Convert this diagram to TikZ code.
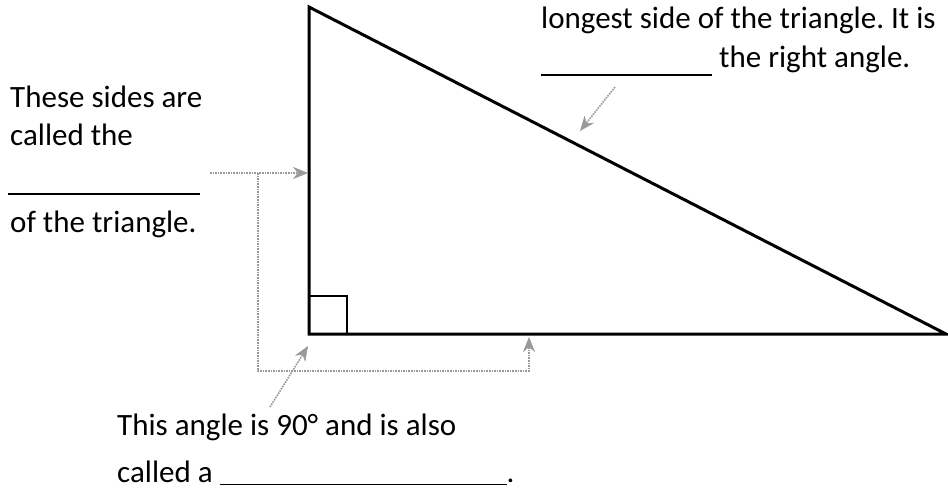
\documentclass[tikz,border=0pt]{standalone}
\usepackage{fontspec}
\setmainfont{Carlito}
\usetikzlibrary{arrows.meta}
\frenchspacing

\begin{document}
\begin{tikzpicture}[x=1pt,y=-1pt,
  txt/.style={anchor=base west,inner sep=0pt,font=\fontsize{31}{37}\selectfont},
  pointer/.style={gray!80,line width=1.6pt,densely dotted,-{Stealth[length=15pt,width=12pt,line width=0.6pt,sep=0pt]}}]
  \useasboundingbox (0,0) rectangle (948,490);
  \coordinate (A) at (309,7); \coordinate (B) at (309,334);
  \coordinate (C) at (946,334);
  \draw[line width=3pt,line join=miter] (A)--(B)--(C)--cycle;
  \draw[line width=2.5pt] (309,296)--(347,296)--(347,334);
  % labels
  \node[txt] (sides1) at (10,107) {These sides are};
  \node[txt] (sides2) at (10,145) {called the};
  \node[txt] (sides3) at (8,195) {\rule{192pt}{2pt}};
  \node[txt] (sides4) at (10,232) {of the triangle.};
  \node[txt] (hyp1) at (541,28) {longest side of the triangle. It is};
  \node[txt] (hyp2) at (541,67) {\rule[-9pt]{171pt}{2pt} the right angle.};
  \node[txt] (ang1) at (117,435) {This angle is 90° and is also};
  \node[txt] (ang2) at (117,482) {called a \rule[-3pt]{287pt}{1.4pt}.};
  % pointers
  \coordinate (Lt0) at (210,173); \coordinate (Lt) at (308,173);
  \coordinate (Bt) at (529,337);
  \coordinate (Ht0) at (615,87); \coordinate (Ht) at (580,131);
  \coordinate (At0) at (270,407); \coordinate (At) at (308,346);
  \draw[pointer] (Lt0) -- (Lt);
  \draw[pointer] (258,173) -- (258,371) -- (529,371) -- (Bt);
  \draw[pointer] (Ht0) -- (Ht);
  \draw[pointer] (At0) -- (At);
\end{tikzpicture}
\end{document}
